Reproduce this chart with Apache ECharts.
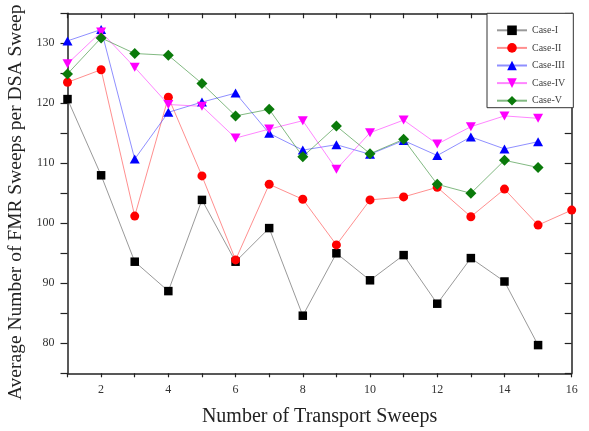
<!DOCTYPE html>
<html>
<head>
<meta charset="utf-8">
<script src="https://cdn.jsdelivr.net/npm/echarts@6/dist/echarts.min.js"></script>
<style>html,body{margin:0;padding:0;background:#fff;}#chart{width:589px;height:431px;}</style>
</head>
<body>
<div id="chart"></div>
<script>
const sweeps = [1,2,3,4,5,6,7,8,9,10,11,12,13,14,15,16];
const caseI   = [120.7,108.0,93.6,88.7,103.9,93.6,99.2,84.6,95.0,90.5,94.7,86.6,94.2,90.3,79.7];
const caseII  = [123.5,125.6,101.2,121.0,107.9,93.9,106.5,104.0,96.4,103.9,104.4,106.0,101.1,105.7,99.7,102.2];
const caseIII = [130.4,132.3,110.7,118.5,120.2,121.7,115.0,112.2,113.1,111.5,113.8,111.3,114.4,112.4,113.6];
const caseIV  = [126.6,131.9,126.0,119.8,119.5,114.2,115.7,117.1,109.0,115.1,117.2,113.2,116.1,117.9,117.5];
const caseV   = [124.9,130.9,128.3,128.0,123.3,117.9,119.0,111.1,116.2,111.6,114.0,106.5,105.0,110.5,109.3];
const seriesNames = ['Case-I','Case-II','Case-III','Case-IV','Case-V'];

const FONT = '"Liberation Serif", "Times New Roman", serif';
const chart = echarts.init(document.getElementById('chart'), null, {renderer:'canvas'});

function pairs(arr){ return arr.map((v,i)=>[sweeps[i], v]); }

const styles = [
  {data: caseI,   color:'#000000', line:'#555555', symbol:'rect',     size:8.5, rot:0},
  {data: caseII,  color:'#ff0000', line:'#ff4444', symbol:'circle',   size:9,   rot:0},
  {data: caseIII, color:'#0000ff', line:'#4444ff', symbol:'triangle', size:[10,9], rot:0},
  {data: caseIV,  color:'#ff00ff', line:'#ff33ff', symbol:'triangle', size:[10,9], rot:180},
  {data: caseV,   color:'#0a7a0a', line:'#2e8b2e', symbol:'diamond',  size:11,  rot:0}
];

const axisLineStyle = {color:'#222', width:1.5};

const option = {
  backgroundColor:'#fff',
  animation:false,
  grid:{left:67.5, right:17.3, top:13.3, bottom:57.7, containLabel:false, outerBoundsMode:'none'},
  legend:{
    orient:'vertical',
    left:487, top:13.3,
    itemWidth:30, itemHeight:12, itemGap:7.6,
    padding:[12,8,2,9],
    borderColor:'#333', borderWidth:1,
    backgroundColor:'#fff',
    textStyle:{fontFamily:FONT, fontSize:10, color:'#444'},
    data: seriesNames
  },
  xAxis:[{
    type:'value', min:1, max:16, interval:1,
    position:'bottom',
    name:'Number of Transport Sweeps',
    nameLocation:'middle', nameGap:33,
    nameTextStyle:{fontFamily:FONT, fontSize:20, color:'#222'},
    axisLine:{show:true, lineStyle:axisLineStyle},
    axisTick:{show:true, inside:false, length:4, lineStyle:{color:'#222', width:1.2}},
    axisLabel:{fontFamily:FONT, fontSize:12, color:'#333', margin:11,
      formatter:v=> (v%2===0 ? String(v) : '')},
    splitLine:{show:false}
  },{
    type:'value', min:1, max:16, interval:1,
    position:'top',
    axisLine:{show:true, lineStyle:axisLineStyle},
    axisTick:{show:true, inside:true, length:5, lineStyle:{color:'#222', width:1.2}},
    axisLabel:{show:false},
    splitLine:{show:false}
  }],
  yAxis:[{
    type:'value', min:75, max:135, interval:5,
    position:'left',
    name:'Average Number of FMR Sweeps per DSA Sweep',
    nameLocation:'middle', nameGap:34, nameRotate:90,
    nameTextStyle:{fontFamily:FONT, fontSize:19.5, color:'#222', padding:[0,18,0,0]},
    axisLine:{show:true, lineStyle:axisLineStyle},
    axisTick:{show:true, inside:false, length:7, lineStyle:{color:'#222', width:1.2}},
    axisLabel:{fontFamily:FONT, fontSize:12, color:'#333', margin:13,
      formatter:v=> (v%10===0 ? String(v) : '')},
    splitLine:{show:false}
  },{
    type:'value', min:75, max:135, interval:5,
    position:'right',
    axisLine:{show:true, lineStyle:axisLineStyle},
    axisTick:{show:true, inside:true, length:7, lineStyle:{color:'#222', width:1.2}},
    axisLabel:{show:false},
    splitLine:{show:false}
  }],
  series: styles.map((s,i)=>({
    name: seriesNames[i],
    type:'line',
    xAxisIndex:0, yAxisIndex:0,
    data: pairs(s.data),
    symbol: s.symbol,
    symbolSize: s.size,
    symbolRotate: s.rot,
    showAllSymbol:true,
    clip:true,
    itemStyle:{color:s.color, opacity:1},
    lineStyle:{color:s.line, width:1, opacity:0.6},
    z: 2 + i
  }))
};
chart.setOption(option);
</script>
</body>
</html>
